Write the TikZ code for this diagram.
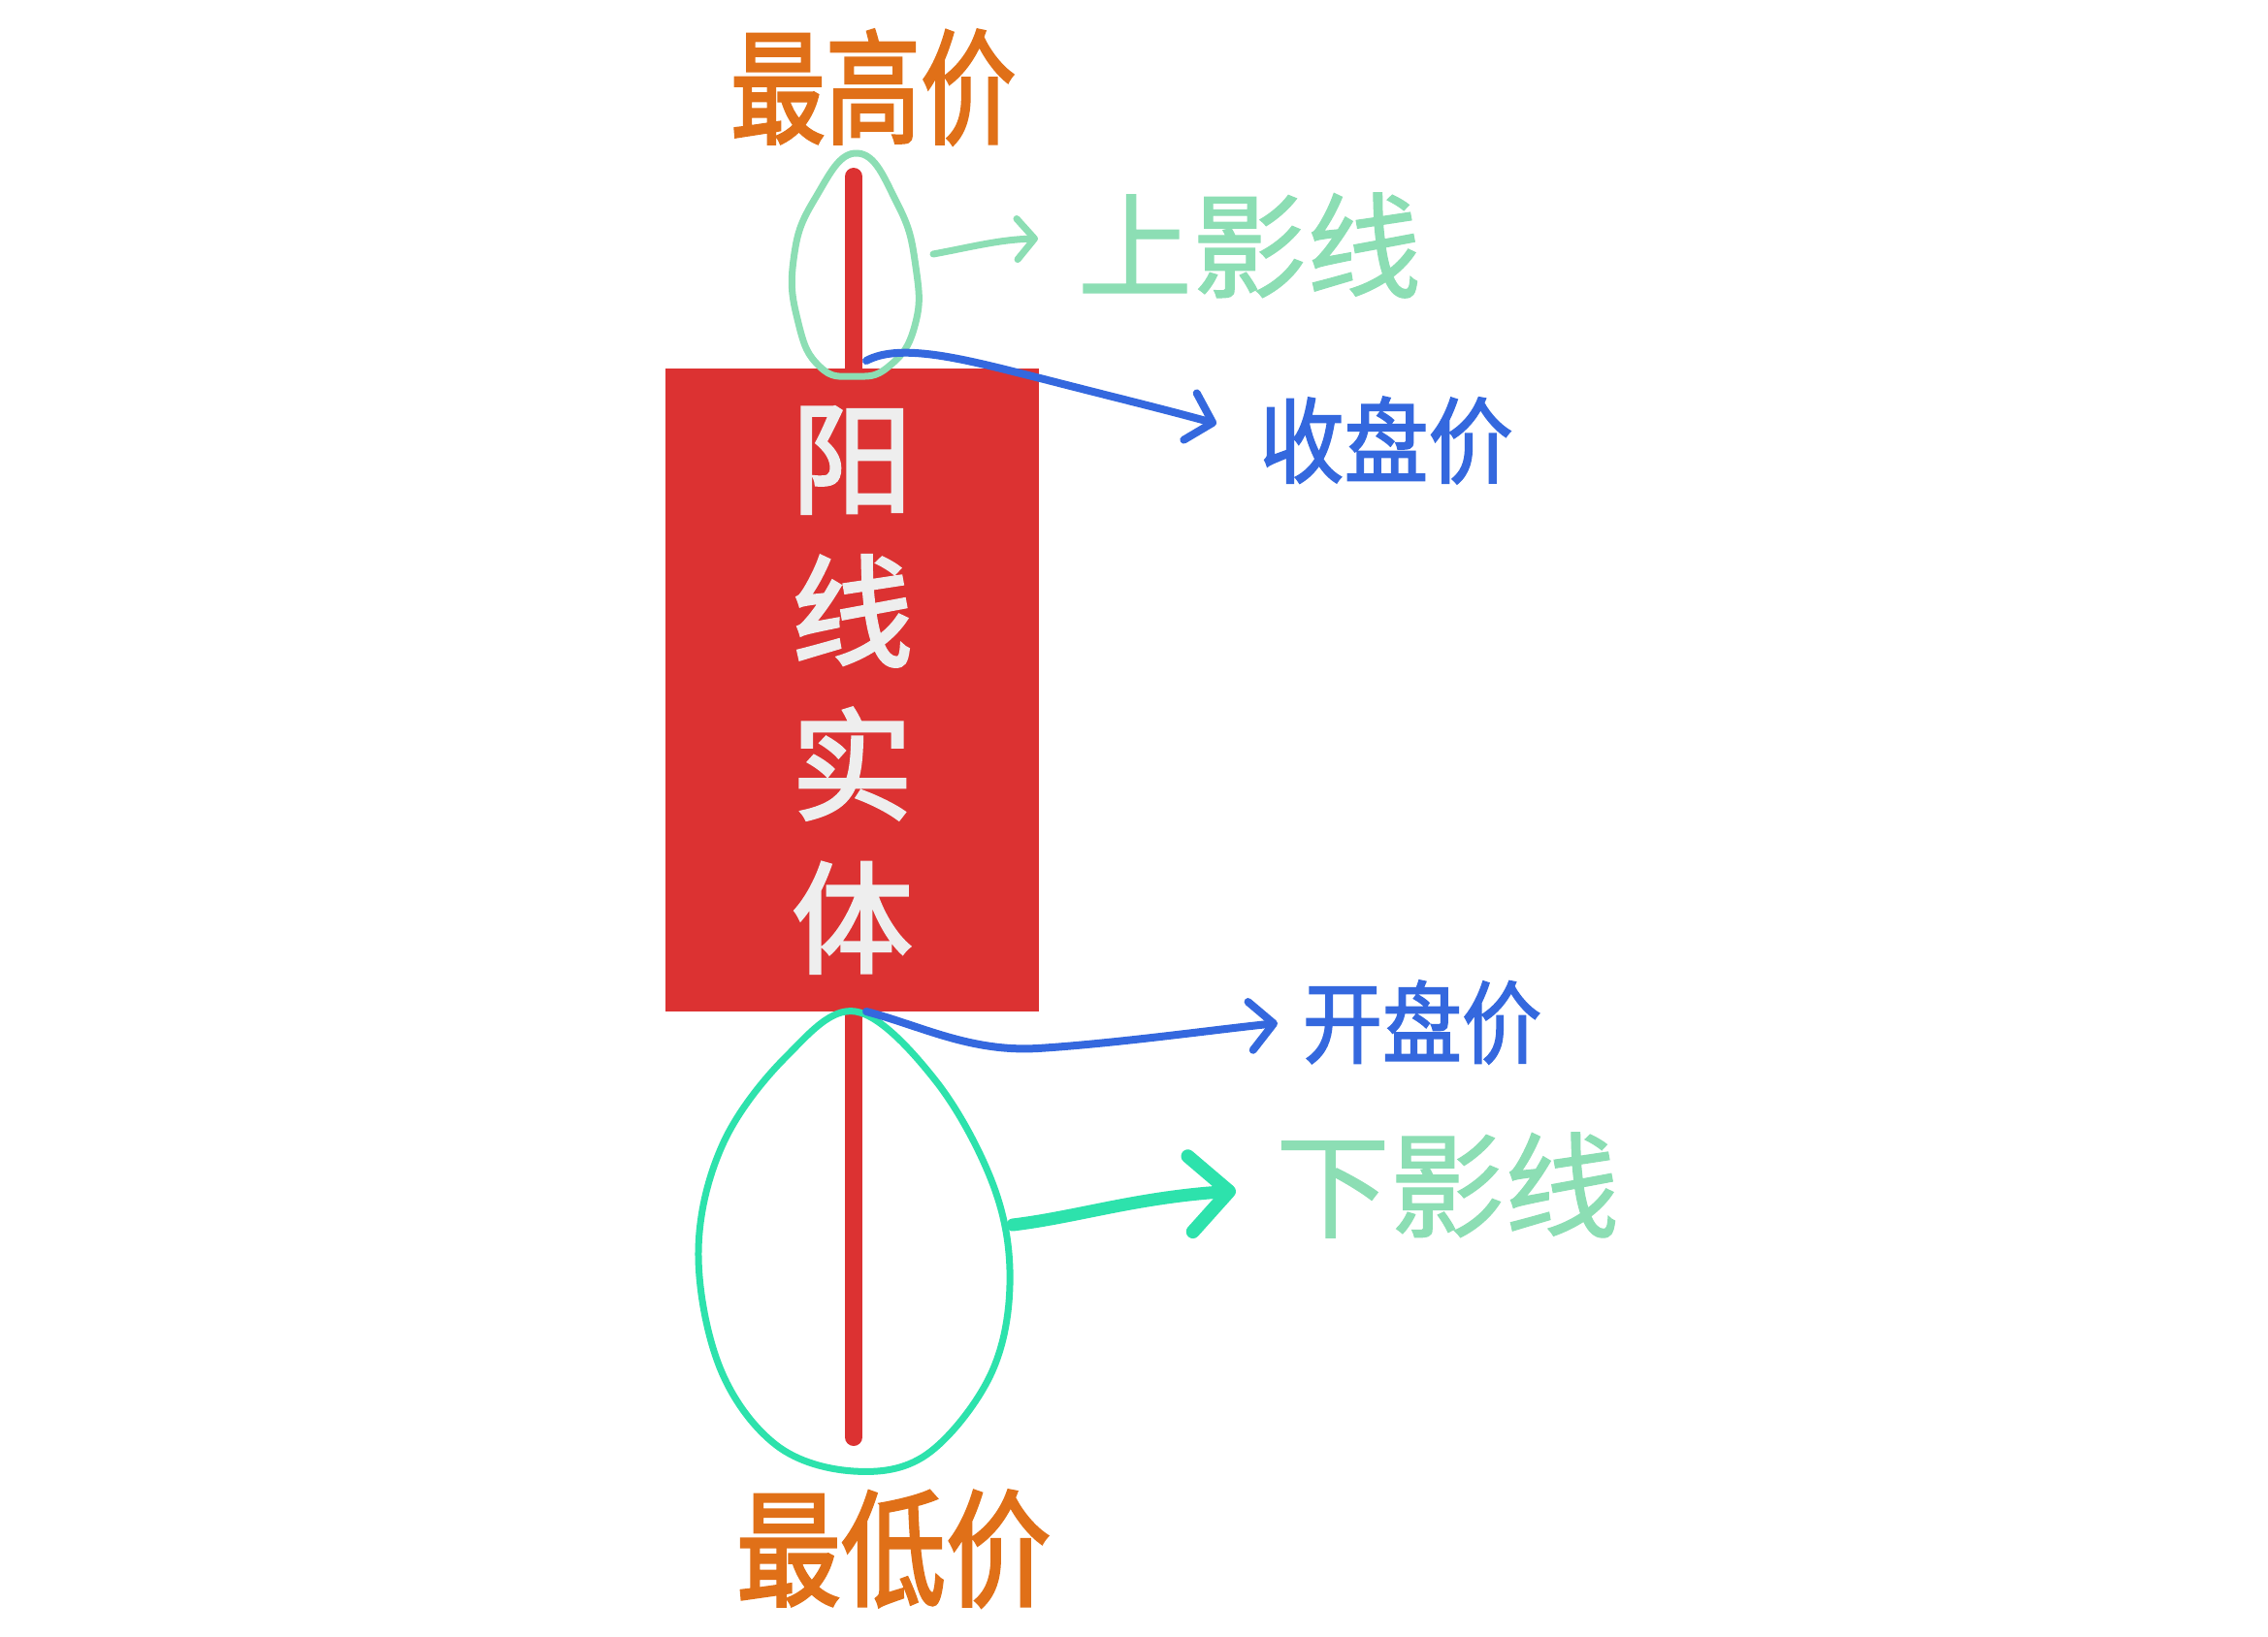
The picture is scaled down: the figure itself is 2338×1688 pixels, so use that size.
\documentclass[tikz,border=0pt]{standalone}
\usepackage{fontspec}
\setmainfont{Noto Sans CJK SC}
\newfontfamily\cjkheavy[FakeBold=2.5]{Noto Sans CJK SC}
\newfontfamily\cjkmed[FakeBold=2]{Noto Sans CJK SC}
\newfontfamily\cjklite[FakeBold=1]{Noto Sans CJK SC}
\usetikzlibrary{arrows.meta}
\definecolor{cOrange}{RGB}{224,112,24}
\definecolor{cLightGreen}{RGB}{140,222,180}
\definecolor{cTeal}{RGB}{45,226,172}
\definecolor{cBlue}{RGB}{52,104,222}
\definecolor{cRed}{RGB}{220,50,50}
\definecolor{cWhite}{RGB}{238,238,238}
\tikzset{
  pricelabel/.style={text=cOrange, inner sep=0pt},
  shadowlabel/.style={text=cLightGreen, inner sep=0pt},
  bluelabel/.style={text=cBlue, inner sep=0pt},
  bluearrow/.style={draw=cBlue, line width=8pt, line cap=round,
    -{Straight Barb[length=24pt,width=50pt,line width=8pt,round]}},
  ring/.style={line width=7pt, line join=round},
}
\begin{document}
\begin{tikzpicture}[x=1pt,y=-1pt]
\useasboundingbox[fill=white] (0,0) rectangle (2338,1688);
% wick
\draw[cRed, line width=18pt, line cap=round] (880,182) -- (880,1482);
% body
\node[fill=cRed, minimum width=385pt, minimum height=663pt, inner sep=0pt,
      text=cWhite, align=center, font=\cjkheavy\fontsize{125}{158}\selectfont]
      (body) at (878.5,711.5) {阳\\线\\实\\体};
% upper shadow ring
\draw[ring, cLightGreen] plot[smooth cycle, tension=0.8] coordinates
  {(884,158) (925,210) (944,275) (943,336) (916,378) (880,388) (845,378) (823,333) (818,268) (840,205)};
% lower shadow ring
\draw[ring, cTeal] plot[smooth cycle, tension=0.6] coordinates
  {(882,1043) (965,1115) (1025,1225) (1041,1325) (1020,1420) (955,1500) (880,1517) (800,1490) (742,1410) (720,1290) (745,1180) (810,1090)};
% labels
\node[pricelabel, font=\cjkheavy\fontsize{98}{98}\selectfont, yscale=1.3] (hi) at (900,90) {最高价};
\node[pricelabel, font=\cjkheavy\fontsize{108}{108}\selectfont, yscale=1.2] (lo) at (921,1597) {最低价};
\node[shadowlabel, font=\cjklite\fontsize{118}{118}\selectfont] (upper) at (1288,253) {上影线};
\node[shadowlabel, font=\cjklite\fontsize{118}{118}\selectfont] (lower) at (1492,1222) {下影线};
\node[bluelabel, font=\cjkmed\fontsize{87}{87}\selectfont, yscale=1.1] (close) at (1429,454) {收盘价};
\node[bluelabel, font=\cjkmed\fontsize{82}{82}\selectfont, yscale=1.12] (open) at (1466,1054) {开盘价};
% connector points
\coordinate (closeP) at (893,372);
\coordinate (closeTip) at (1254,437);
\coordinate (openP) at (893,1043);
\coordinate (openTip) at (1317,1055);
\coordinate (upP) at (962,262);
\coordinate (upTip) at (1070,246);
\coordinate (lowP) at (1044,1263);
\coordinate (lowTip) at (1274,1228);
% arrows
\draw[bluearrow] (closeP) .. controls (930,352) and (1000,372) .. (1080,392)
   .. controls (1150,410) and (1200,422) .. (closeTip);
\draw[bluearrow] (openP) .. controls (950,1058) and (1000,1085) .. (1070,1081)
   .. controls (1150,1076) and (1250,1062) .. (openTip);
\draw[cLightGreen, line width=7pt, line cap=round,
   -{Straight Barb[length=18pt,width=42pt,line width=7pt,round]}]
   (upP) .. controls (1000,255) and (1030,247) .. (upTip);
\draw[cTeal, line width=13pt, line cap=round,
   -{Straight Barb[length=40pt,width=78pt,line width=14pt,round]}]
   (lowP) .. controls (1110,1255) and (1170,1235) .. (lowTip);
\end{tikzpicture}
\end{document}
